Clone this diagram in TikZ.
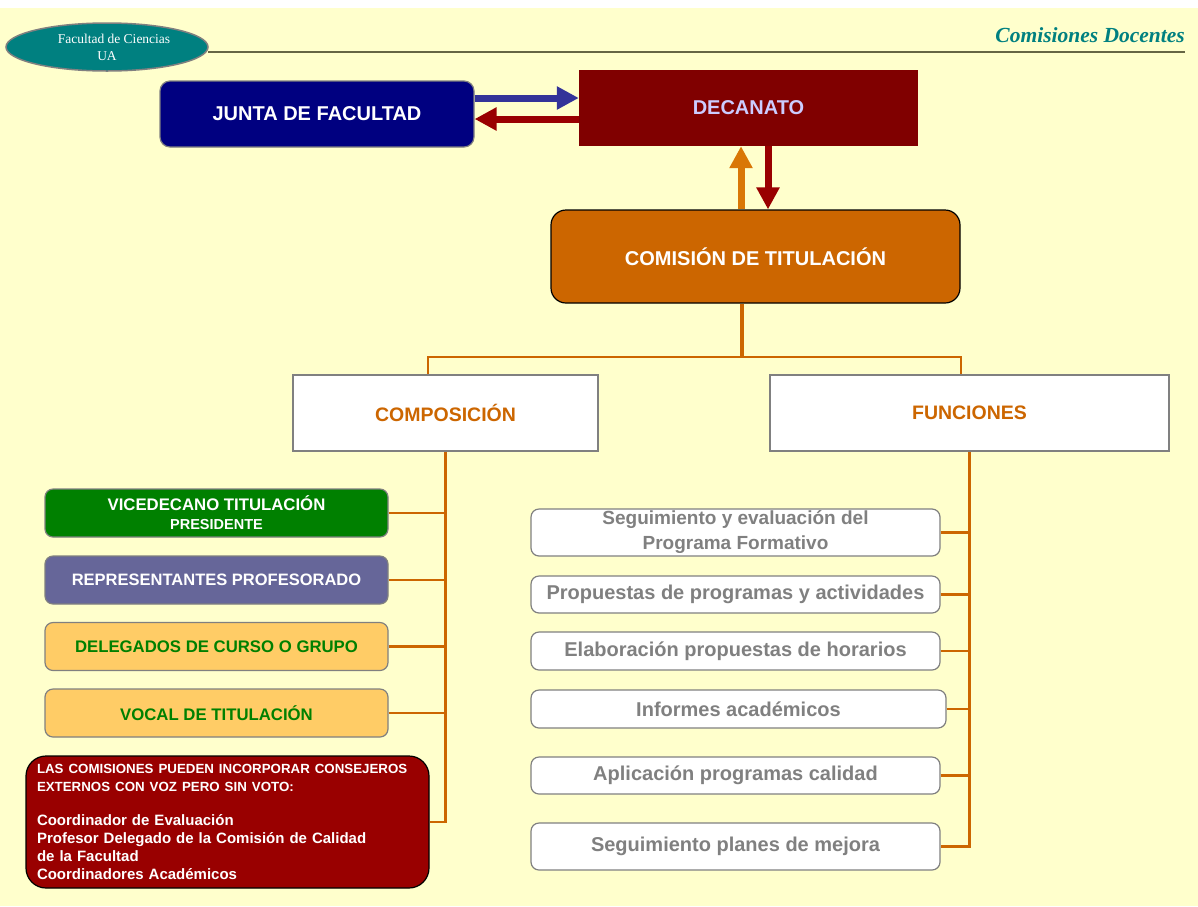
\documentclass[tikz,border=0pt]{standalone}
\usepackage{fontspec}
\setmainfont{Liberation Sans}
\newfontfamily\timesfont{Liberation Serif}
\usetikzlibrary{shapes.geometric,arrows.meta}

\definecolor{fondo}{HTML}{FFFFCC}
\definecolor{verdeazul}{HTML}{008080}
\definecolor{marino}{HTML}{000080}
\definecolor{granate}{HTML}{800000}
\definecolor{rojo}{HTML}{990000}
\definecolor{azulf}{HTML}{333399}
\definecolor{naranja}{HTML}{CC6600}
\definecolor{naranjaf}{HTML}{D97706}
\definecolor{verde}{HTML}{008000}
\definecolor{lila}{HTML}{666699}
\definecolor{crema}{HTML}{FFCC66}
\definecolor{gris}{HTML}{808080}
\definecolor{oliva}{HTML}{666644}

\tikzset{
  caja/.style={rounded corners=8pt,draw=gris,line width=1.2pt,inner sep=0pt,align=center},
  comp/.style={caja,minimum width=343pt,minimum height=48pt,font=\fontsize{16.75}{19}\selectfont\bfseries},
  func/.style={caja,fill=white,text=gris,minimum width=409pt,minimum height=38pt,font=\fontsize{20}{24}\selectfont\bfseries},
  cabeza/.style={draw=gris,line width=1.5pt,fill=white,text=naranja,minimum width=305pt,minimum height=76pt,inner sep=0pt,font=\fontsize{19.5}{23}\selectfont\bfseries},
  enlace/.style={draw=naranja,line width=2.5pt},
  flecha/.style={line width=7pt,-{Triangle[width=22pt,length=22pt]}},
}

\begin{document}
\begin{tikzpicture}[x=1pt,y=-1pt]
\useasboundingbox (0,0) rectangle (1198,906);
\fill[white] (0,0) rectangle (1198,906);
\fill[fondo] (0,8) rectangle (1198,906);
            % Cabecera
\node[ellipse,draw=gris,line width=1.5pt,fill=verdeazul,text=white,minimum width=202pt,minimum height=48pt,inner sep=0pt,align=center,font=\timesfont\fontsize{13.5}{17}\selectfont] (fac) at (107,47) {\hspace*{14pt}Facultad de Ciencias\\UA};
\node[anchor=east,text=verdeazul,inner sep=0pt,font=\timesfont\fontsize{21.5}{24}\selectfont\bfseries\itshape] (titulo) at (1185,35) {Comisiones Docentes};
\coordinate (reglaL) at (208,52);
\coordinate (reglaR) at (1185,52);
\draw[oliva,line width=2pt] (reglaL) -- (reglaR);
            % Organos
\node[rounded corners=10pt,draw=gris,line width=1.2pt,fill=marino,text=white,minimum width=314pt,minimum height=66pt,inner sep=0pt,font=\fontsize{20}{24}\selectfont\bfseries] (junta) at (317,114) {JUNTA DE FACULTAD};
\node[fill=granate,text={rgb,255:red,204;green,204;blue,255},minimum width=339pt,minimum height=76pt,inner sep=0pt,font=\fontsize{20}{24}\selectfont\bfseries] (decanato) at (748.5,108) {DECANATO};
\node[rounded corners=15pt,draw=black,line width=1.2pt,fill=naranja,text=white,minimum width=409pt,minimum height=93pt,inner sep=0pt,font=\fontsize{20}{24}\selectfont\bfseries] (comision) at (755.5,256.5) {COMISIÓN DE TITULACIÓN};
\node[cabeza] (composicion) at (445.5,413) {COMPOSICIÓN};
\node[cabeza,minimum width=399pt] (funciones) at (969.5,413) {FUNCIONES};
            % Composicion
\node[comp,fill=verde,text=white] (vice) at (216.5,513) {VICEDECANO TITULACIÓN\\{\fontsize{14.5}{17}\selectfont PRESIDENTE}};
\node[comp,fill=lila,text=white,font=\fontsize{16.5}{19}\selectfont\bfseries] (repre) at (216.5,580) {REPRESENTANTES PROFESORADO};
\node[comp,fill=crema,text=verde] (deleg) at (216.5,646.5) {DELEGADOS DE CURSO O GRUPO};
\node[comp,fill=crema,text=verde] (vocal) at (216.5,713) {VOCAL DE TITULACIÓN};
\node[rounded corners=20pt,draw=black,line width=1.2pt,fill=rojo,text=white,minimum width=403pt,minimum height=132pt,text width=381pt,inner xsep=11pt,align=left,font=\fontsize{15}{18}\selectfont\bfseries] (nota) at (227.5,822) {{\fontsize{13.3}{16}\selectfont LAS COMISIONES PUEDEN INCORPORAR CONSEJEROS\\EXTERNOS CON VOZ PERO SIN VOTO:}\\[16pt]Coordinador de Evaluación\\Profesor Delegado de la Comisión de Calidad\\de la Facultad\\Coordinadores Académicos};
            % Funciones
\node[func,minimum height=47pt,font=\fontsize{19}{25}\selectfont\bfseries] (f1) at (735.5,532.5) {Seguimiento y evaluación del\\Programa Formativo};
\node[func,minimum height=37pt] (f2) at (735.5,594.5) {Propuestas de programas y actividades};
\node[func] (f3) at (735.5,651) {Elaboración propuestas de horarios};
\node[func,minimum width=415pt] (f4) at (738.5,709) {Informes académicos};
\node[func,minimum height=37pt] (f5) at (735.5,775.5) {Aplicación programas calidad};
\node[func,minimum height=47pt] (f6) at (735.5,846.5) {Seguimiento planes de mejora};
            % Flechas
\draw[flecha,azulf] ([yshift=16pt]junta.east) -- ([yshift=10pt]decanato.west);
\draw[flecha,rojo] ([yshift=-11pt]decanato.west) -- ([yshift=-5pt]junta.east);
\draw[flecha,naranjaf] ([xshift=-14.5pt]comision.north) -- ([xshift=-7.5pt]decanato.south);
\draw[flecha,rojo] ([xshift=19.5pt]decanato.south) -- ([xshift=12.5pt]comision.north);
            % Enlaces
\coordinate (rama) at (742,357);
\draw[enlace,line width=4pt] (comision.south -| rama) -- (rama);
\draw[enlace] (rama) -| ([xshift=-17.5pt]composicion.north);
\draw[enlace] (rama) -| ([xshift=-8.5pt]funciones.north);
\draw[enlace] (composicion.south) |- (nota.east);
\foreach \n in {vice,repre,deleg,vocal}
  \draw[enlace] (\n.east) -- (\n.east -| composicion.south);
\draw[enlace] (funciones.south) |- (f6.east);
\foreach \n in {f1,f2,f3,f4,f5}
  \draw[enlace] (\n.east) -- (\n.east -| funciones.south);
\end{tikzpicture}
\end{document}
